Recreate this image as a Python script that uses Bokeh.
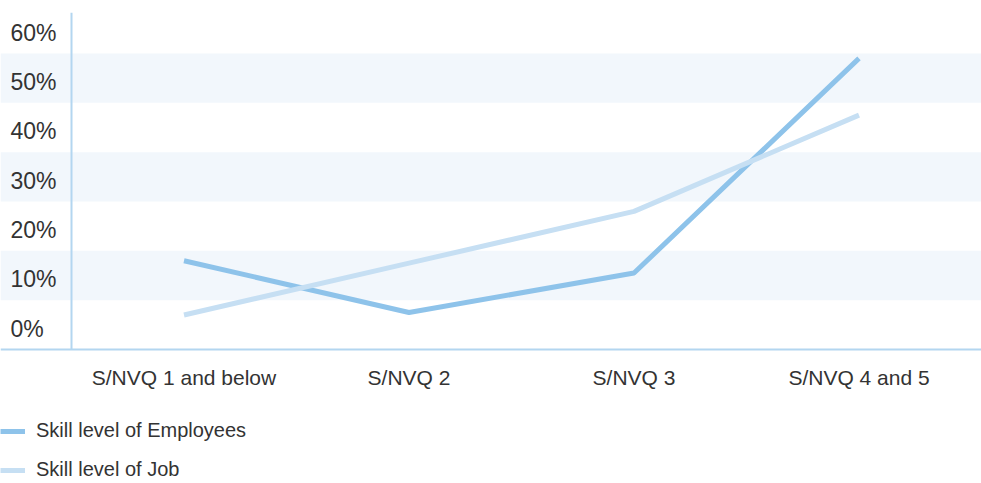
from bokeh.plotting import figure
from bokeh.models import Range1d, Span, BoxAnnotation, Legend, LegendItem
from bokeh.core.properties import value
from bokeh.embed import file_html
from bokeh.resources import INLINE

# ---- data ----
categories = ["S/NVQ 1 and below", "S/NVQ 2", "S/NVQ 3", "S/NVQ 4 and 5"]
employees = [18, 7.5, 15.5, 59]
job = [7, 17.5, 28, 47.5]
y_ticks = [0, 10, 20, 30, 40, 50, 60]
y_tick_labels = ["0%", "10%", "20%", "30%", "40%", "50%", "60%"]
band_starts = [10, 30, 50]

FONT = "Liberation Sans"
TEXT = "#333333"
AXIS = "#b3d6f0"
BAND = "#f2f7fc"
C_EMP = "#8ec3ea"
C_JOB = "#c6dff3"

xs = [i + 0.5 for i in range(len(categories))]

W, H = 981, 483
PX_X = 225.0          # pixels per category
PX_Y = 296 / 60.0     # pixels per percent
x0 = -71 / PX_X
p = figure(width=W, height=H, output_backend="svg", toolbar_location=None,
           x_range=Range1d(x0, x0 + W / PX_X),
           y_range=Range1d(-(H - 349) / PX_Y, (349 - 12) / PX_Y),
           min_border_left=0, min_border_right=0, min_border_top=12,
           min_border_bottom=0)
p.outline_line_color = None
p.grid.visible = False
p.xaxis.visible = False
p.yaxis.visible = False
p.background_fill_color = "white"
p.border_fill_color = "white"

# alternating bands
for b in band_starts:
    p.add_layout(BoxAnnotation(bottom=b, top=b + 10, fill_color=BAND, fill_alpha=1,
                               line_color=None, level="underlay"))

# axis lines: horizontal baseline at 0 %, vertical line at the category start
p.add_layout(Span(location=0, dimension="width", line_color=AXIS, line_width=2))
p.segment(x0=[0], y0=[0], x1=[0], y1=[p.y_range.end], line_color=AXIS, line_width=2)

# category labels under the baseline
p.text(x=xs, y=[0] * len(xs), text=categories, y_offset=28,
       text_align="center", text_baseline="middle",
       text_font=value(FONT), text_font_size="21px", text_color=TEXT)

# y tick labels (drawn above their tick values)
p.text(x=[p.x_range.start] * len(y_ticks), y=y_ticks, text=y_tick_labels,
       x_offset=10, y_offset=-21, text_align="left", text_baseline="middle",
       text_font=value(FONT), text_font_size="23px", text_color=TEXT)

r1 = p.line(xs, employees, line_color=C_EMP, line_width=5)
r2 = p.line(xs, job, line_color=C_JOB, line_width=5)

legend = Legend(items=[LegendItem(label="Skill level of Employees", renderers=[r1]),
                       LegendItem(label="Skill level of Job", renderers=[r2])],
                location=(0, 2), orientation="vertical", padding=0, margin=0,
                spacing=16, label_height=22, glyph_width=25, glyph_height=22,
                label_standoff=11, background_fill_alpha=0, border_line_color=None,
                label_text_font_size="20px", label_text_color=TEXT,
                label_text_font=FONT)
p.add_layout(legend, "center")

open("out.html", "w").write(file_html(p, INLINE))
